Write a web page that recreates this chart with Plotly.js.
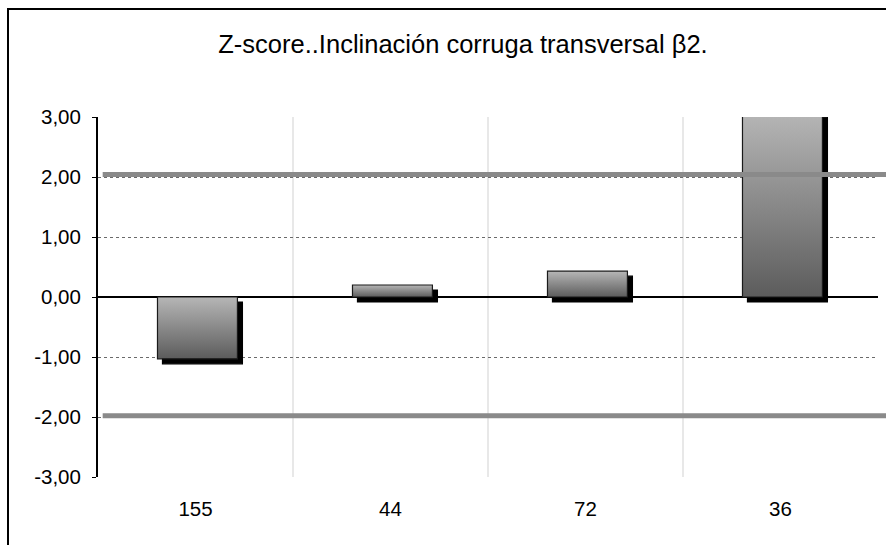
<!DOCTYPE html>
<html>
<head>
<meta charset="utf-8">
<script src="https://cdn.plot.ly/plotly-3.0.1.min.js"></script>
<style>
  html, body { margin: 0; padding: 0; background: #fff; }
  #wrap { position: relative; width: 886px; height: 545px; overflow: hidden; }
  #chart { width: 886px; height: 545px; }
  #frame { position: absolute; left: 7px; top: 8px; width: 900px; height: 600px;
           border-left: 2.5px solid #000; border-top: 2.5px solid #000; pointer-events: none; }
</style>
</head>
<body>
<div id="wrap">
  <div id="chart"></div>
  <div id="frame"></div>
</div>
<script>
// ---- data ----
const categories = ['155', '44', '72', '36'];
const zScores = [-1.03, 0.20, 0.43, 3.08];
const upperLimit = 2.04;
const lowerLimit = -1.98;
const yTickValues = [-3, -2, -1, 0, 1, 2, 3];
const yTickLabels = ['-3,00', '-2,00', '-1,00', '0,00', '1,00', '2,00', '3,00'];
const chartTitle = 'Z-score..Inclinación corruga transversal β2.';

const barTrace = {
  type: 'bar',
  x: categories,
  y: zScores,
  width: 0.41,
  offset: -0.195,
  cliponaxis: false,
  marker: { color: '#8c8c8c', line: { color: '#1a1a1a', width: 1.2 } },
  hoverinfo: 'x+y'
};

const limitShape = (v) => ({
  type: 'line', xref: 'paper', yref: 'y',
  x0: 0.006, x1: 1.02, y0: v, y1: v,
  line: { color: '#8a8a8a', width: 5 }, layer: 'above'
});

const layout = {
  width: 886, height: 545,
  margin: { l: 98, r: 8, t: 117, b: 68 },
  paper_bgcolor: '#ffffff', plot_bgcolor: '#ffffff',
  showlegend: false,
  font: { family: 'Liberation Sans, Arial, sans-serif', color: '#000' },
  title: {
    text: chartTitle,
    font: { size: 25.5, color: '#000', family: 'Liberation Sans, Arial, sans-serif' },
    xref: 'container', yref: 'container',
    x: 463 / 886, xanchor: 'center',
    y: 1 - 44 / 545, yanchor: 'middle'
  },
  xaxis: {
    type: 'category',
    tickson: 'boundaries',
    showgrid: true, gridcolor: '#e8e8e8', gridwidth: 2,
    ticks: '', showline: false, zeroline: false,
    tickfont: { size: 20.5, color: '#000' },
    ticklabelstandoff: 17,
    fixedrange: true
  },
  yaxis: {
    range: [-3, 3],
    tickvals: yTickValues, ticktext: yTickLabels,
    showgrid: true, gridcolor: '#6a6a6a', gridwidth: 1, griddash: 'dot',
    zeroline: true, zerolinecolor: '#000', zerolinewidth: 1.5,
    showline: true, linecolor: '#000', linewidth: 2,
    ticks: 'outside', ticklen: 4, tickcolor: '#000', tickwidth: 1,
    tickfont: { size: 20.5, color: '#000' },
    ticklabelstandoff: 7,
    fixedrange: true
  },
  shapes: [limitShape(upperLimit), limitShape(lowerLimit)]
};

Plotly.newPlot('chart', [barTrace], layout, { displayModeBar: false, staticPlot: true }).then(function (gd) {
  const svg = gd.querySelector('svg.main-svg');
  const ns = 'http://www.w3.org/2000/svg';
  let defs = svg.querySelector('defs');
  if (!defs) { defs = document.createElementNS(ns, 'defs'); svg.insertBefore(defs, svg.firstChild); }
  const grad = document.createElementNS(ns, 'linearGradient');
  grad.setAttribute('id', 'barGrad');
  grad.setAttribute('x1', '0'); grad.setAttribute('y1', '0');
  grad.setAttribute('x2', '0'); grad.setAttribute('y2', '1');
  [['0%', '#b6b6b6'], ['100%', '#5c5c5c']].forEach(function (s) {
    const st = document.createElementNS(ns, 'stop');
    st.setAttribute('offset', s[0]); st.setAttribute('stop-color', s[1]);
    grad.appendChild(st);
  });
  defs.appendChild(grad);
  gd.querySelectorAll('.barlayer .point path').forEach(function (p) {
    p.style.fill = 'url(#barGrad)';
    p.style.filter = 'drop-shadow(5px 5px 0px #000)';
  });
});
</script>
</body>
</html>
